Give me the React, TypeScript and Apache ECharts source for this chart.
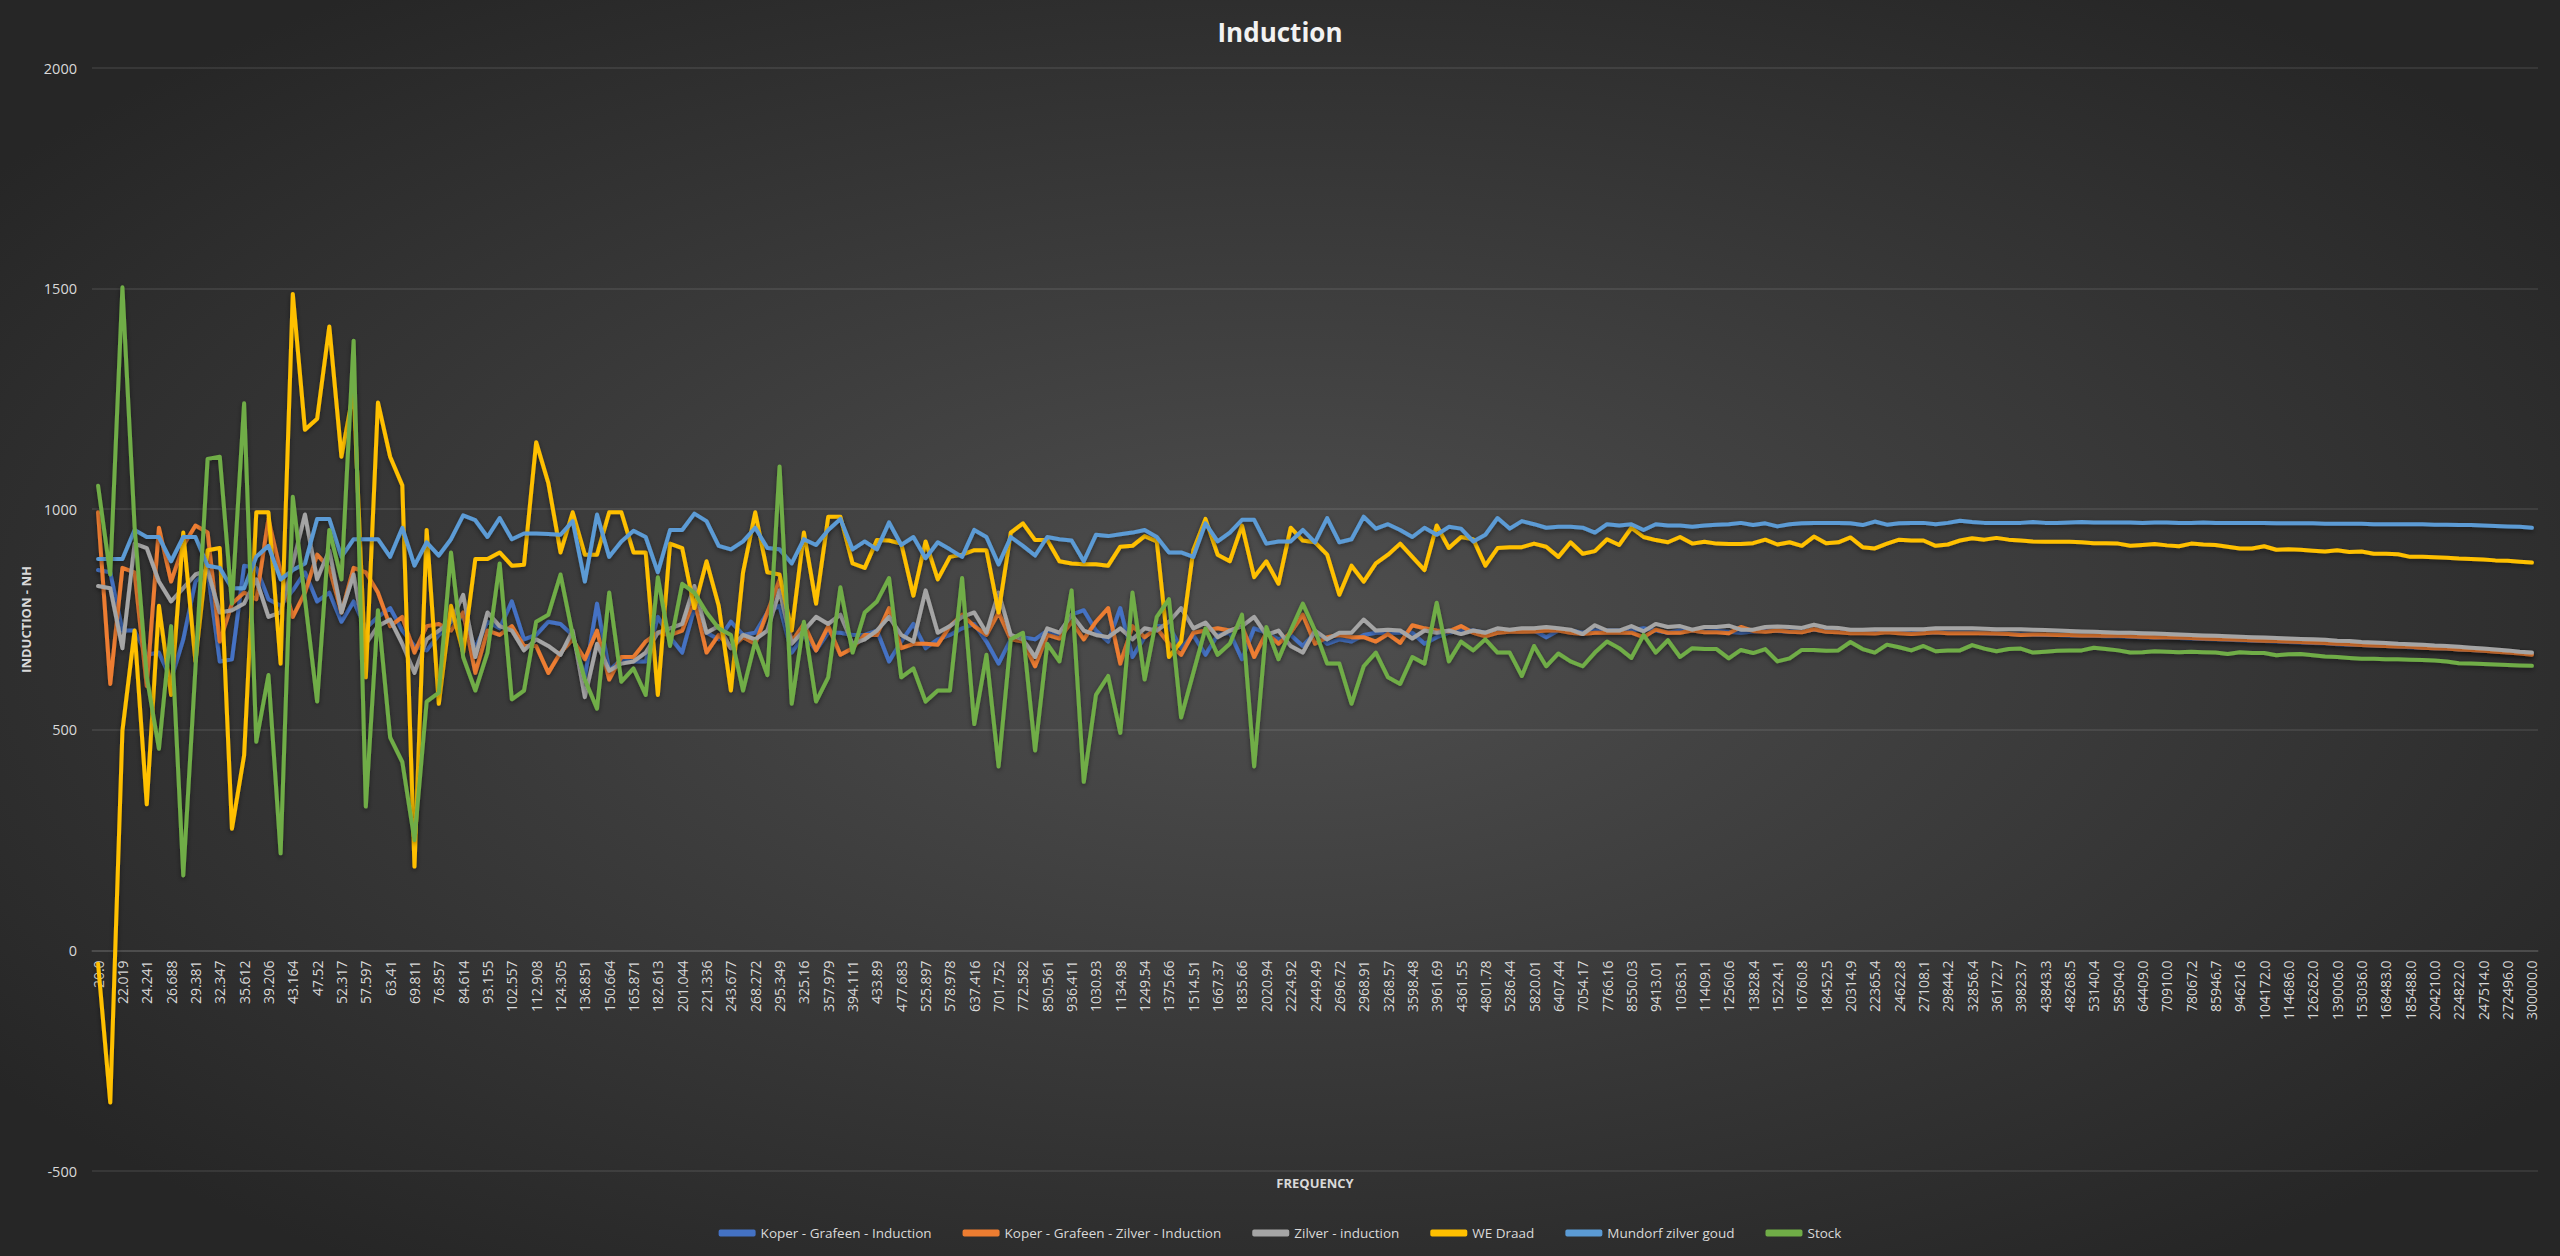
import React, { useEffect, useRef } from 'react';
import * as echarts from 'echarts';

// frequency points (every other one is labelled on the axis)
const frequencies = [
  '20.0', '20.985', '22.019', '23.104', '24.241', '25.435', '26.688', '28.003', '29.381', '30.828',
  '32.347', '33.940', '35.612', '37.366', '39.206', '41.137', '43.164', '45.290', '47.52', '49.861',
  '52.317', '54.894', '57.597', '60.434', '63.41', '66.533', '69.811', '73.250', '76.857', '80.643',
  '84.614', '88.782', '93.155', '97.743', '102.557', '107.608', '112.908', '118.469', '124.305', '130.428',
  '136.851', '143.592', '150.664', '158.085', '165.871', '174.041', '182.613', '191.607', '201.044', '210.946',
  '221.336', '232.238', '243.677', '255.679', '268.272', '281.486', '295.349', '309.896', '325.16', '341.175',
  '357.979', '375.611', '394.111', '413.523', '433.89', '455.261', '477.683', '501.211', '525.897', '551.8',
  '578.978', '607.495', '637.416', '668.811', '701.752', '736.316', '772.582', '810.635', '850.561', '892.455',
  '936.411', '982.533', '1030.93', '1081.71', '1134.98', '1190.88', '1249.54', '1311.09', '1375.66', '1443.42',
  '1514.51', '1589.11', '1667.37', '1749.5', '1835.66', '1926.07', '2020.94', '2120.48', '2224.92', '2334.51',
  '2449.49', '2570.14', '2696.72', '2829.54', '2968.91', '3115.14', '3268.57', '3429.56', '3598.48', '3775.72',
  '3961.69', '4156.82', '4361.55', '4576.37', '4801.78', '5038.29', '5286.44', '5546.82', '5820.01', '6106.67',
  '6407.44', '6723.03', '7054.17', '7401.62', '7766.16', '8148.68', '8550.03', '8971.15', '9413.01', '9876.64',
  '10363.1', '10873.5', '11409.1', '11971.1', '12560.6', '13179.3', '13828.4', '14509.5', '15224.1', '15974.0',
  '16760.8', '17586.3', '18452.5', '19361.4', '20314.9', '21315.5', '22365.4', '23467.0', '24622.8', '25835.6',
  '27108.1', '28443.3', '29844.2', '31314.2', '32856.4', '34474.7', '36172.7', '37954.4', '39823.7', '41785.2',
  '43843.3', '46002.8', '48268.5', '50645.9', '53140.4', '55757.8', '58504.0', '61385.6', '64409.0', '67581.4',
  '70910.0', '74402.6', '78067.2', '81912.3', '85946.7', '90179.9', '94621.6', '99282.1', '104172.0', '109303.0',
  '114686.0', '120335.0', '126262.0', '132481.0', '139006.0', '145853.0', '153036.0', '160574.0', '168483.0', '176781.0',
  '185488.0', '194624.0', '204210.0', '214268.0', '224822.0', '235895.0', '247514.0', '259705.0', '272496.0', '285918.0',
  '300000.0',
];

const koperGrafeen = [
  862, 857, 725, 725, 670, 675, 614, 705, 836, 862, 655, 660, 872, 867, 796, 781, 816, 857, 791, 811, 745, 791, 730, 756, 776, 725, 690,
  680, 715, 740, 756, 685, 745, 730, 791, 705, 715, 745, 740, 715, 619, 786, 634, 660, 655, 655, 756, 710, 675, 776, 720, 705, 745,
  715, 720, 766, 781, 675, 715, 680, 720, 720, 715, 715, 725, 655, 700, 740, 685, 705, 715, 730, 740, 700, 650, 705, 710, 705, 725, 715,
  761, 771, 725, 700, 776, 665, 710, 735, 735, 685, 715, 670, 715, 720, 660, 730, 720, 705, 715, 690, 720, 695, 705, 700, 715, 720,
  720, 720, 720, 695, 710, 720, 725, 725, 720, 720, 725, 727, 725, 710, 725, 725, 720, 725, 725, 725, 725, 730, 725, 720, 725, 725,
  722, 724, 722, 720, 723, 725, 724, 723, 722, 727, 724, 722, 722, 720, 720, 722, 720, 719, 720, 721, 720, 720, 720, 719, 718, 717, 716, 716, 715, 715, 714, 714, 713, 712,
  712, 711, 710, 709, 709, 708, 707, 706, 705, 704, 703, 702, 701, 700, 699, 698, 697, 696, 694, 693, 692, 691, 690, 689, 687, 686, 685, 684, 682, 681, 679, 678, 676, 675, 673,
];

const koperGrafeenZilver = [
  993, 604, 867, 857, 599, 958, 836, 917, 963, 947, 700, 786, 811, 796, 978, 857, 756, 811, 897, 867, 766, 867, 857, 811, 735, 756, 675,
  735, 740, 725, 766, 629, 725, 715, 735, 690, 690, 629, 675, 705, 660, 725, 614, 665, 665, 700, 720, 715, 725, 796, 675, 715, 685,
  710, 695, 766, 841, 700, 740, 680, 735, 670, 685, 715, 715, 776, 685, 695, 695, 693, 735, 761, 735, 715, 766, 705, 700, 644, 715, 707,
  745, 705, 745, 776, 650, 735, 710, 730, 695, 670, 720, 725, 730, 725, 735, 665, 720, 695, 720, 761, 695, 710, 715, 710, 710, 700,
  717, 697, 737, 730, 725, 723, 735, 720, 712, 720, 722, 722, 723, 725, 725, 720, 717, 720, 720, 720, 720, 710, 727, 720, 720, 725,
  721, 721, 719, 733, 724, 722, 725, 722, 721, 728, 722, 721, 719, 719, 718, 721, 719, 717, 719, 721, 719, 719, 719, 719, 718, 717, 715, 716, 716, 715, 715, 714, 714, 713,
  713, 712, 711, 710, 710, 709, 708, 707, 706, 705, 704, 703, 702, 701, 700, 699, 698, 697, 695, 694, 692, 691, 690, 689, 688, 686, 685, 684, 682, 681, 679, 677, 675, 673, 670,
];

const zilver = [
  826, 821, 685, 922, 912, 836, 791, 821, 852, 862, 766, 771, 786, 841, 756, 766, 877, 988, 841, 907, 766, 852, 695, 735, 750, 695, 629,
  705, 725, 745, 806, 665, 766, 735, 725, 680, 705, 690, 670, 725, 574, 695, 634, 650, 655, 675, 720, 730, 740, 826, 720, 735, 685,
  715, 705, 725, 816, 695, 725, 756, 740, 761, 695, 705, 725, 756, 715, 700, 816, 720, 735, 756, 766, 720, 811, 715, 705, 665, 730, 720,
  761, 725, 715, 710, 730, 705, 730, 725, 745, 776, 730, 743, 710, 725, 735, 756, 715, 725, 690, 675, 725, 705, 720, 720, 750, 725,
  727, 725, 707, 725, 720, 725, 717, 725, 720, 730, 727, 730, 730, 733, 730, 727, 717, 737, 725, 725, 735, 723, 740, 733, 735, 727,
  733, 733, 736, 727, 727, 733, 734, 733, 731, 738, 732, 731, 727, 727, 728, 728, 728, 728, 728, 730, 730, 730, 730, 729, 728, 728, 728, 727, 726, 725, 724, 723, 722, 721,
  720, 720, 719, 718, 717, 716, 715, 714, 713, 712, 711, 710, 709, 708, 707, 706, 705, 704, 702, 701, 699, 698, 697, 695, 694, 693, 691, 690, 688, 686, 684, 682, 680, 677, 675,
];

const weDraad = [
  -30, -345, 498, 725, 331, 781, 579, 947, 655, 907, 912, 276, 442, 993, 993, 650, 1488, 1180, 1205, 1414, 1119, 1270, 619, 1242, 1119, 1054, 190,
  953, 559, 781, 675, 887, 887, 902, 872, 874, 1152, 1059, 902, 993, 897, 897, 993, 993, 902, 902, 579, 922, 912, 776, 882, 781, 589,
  857, 993, 857, 852, 725, 947, 786, 983, 983, 877, 867, 930, 929, 922, 804, 927, 841, 892, 897, 907, 907, 766, 947, 968, 930, 930, 882,
  877, 875, 875, 872, 915, 917, 939, 927, 665, 700, 907, 978, 897, 882, 963, 846, 882, 831, 958, 929, 925, 897, 806, 872, 836, 877,
  897, 922, 892, 862, 963, 912, 937, 932, 872, 912, 914, 914, 922, 915, 892, 925, 899, 905, 932, 919, 958, 937, 930, 925, 937, 922,
  926, 922, 921, 921, 923, 931, 920, 925, 917, 938, 923, 925, 936, 914, 911, 922, 931, 929, 929, 917, 920, 929, 934, 931, 935, 931, 929, 927, 926, 926, 926, 925, 923, 923,
  922, 917, 919, 921, 918, 916, 922, 920, 919, 915, 911, 911, 916, 908, 909, 908, 906, 904, 907, 903, 904, 899, 899, 898, 892, 892, 891, 890, 888, 887, 886, 884, 883, 881, 879,
];

const mundorf = [
  887, 887, 887, 953, 937, 937, 882, 937, 937, 872, 867, 821, 821, 892, 917, 841, 862, 877, 978, 978, 892, 932, 932, 932, 892, 958, 872,
  925, 895, 932, 986, 975, 937, 980, 932, 945, 945, 944, 942, 973, 836, 988, 892, 927, 951, 937, 857, 953, 953, 990, 973, 917, 909,
  927, 958, 912, 909, 877, 932, 919, 953, 978, 909, 927, 909, 970, 919, 937, 889, 925, 909, 892, 953, 937, 875, 937, 917, 895, 937, 932,
  929, 882, 942, 939, 943, 947, 953, 937, 902, 902, 892, 968, 927, 947, 976, 976, 922, 927, 927, 953, 925, 980, 925, 932, 983, 956,
  966, 953, 937, 958, 942, 960, 956, 927, 942, 980, 956, 973, 966, 958, 960, 960, 958, 947, 966, 963, 966, 953, 966, 963, 963, 960,
  963, 965, 966, 969, 964, 968, 961, 966, 968, 969, 969, 969, 968, 964, 972, 965, 968, 969, 969, 966, 969, 974, 971, 969, 969, 969, 969, 971, 969, 969, 970, 971, 970, 970,
  970, 970, 969, 970, 970, 969, 969, 970, 969, 969, 969, 969, 969, 968, 968, 968, 968, 967, 967, 967, 967, 966, 966, 966, 966, 966, 965, 965, 964, 964, 963, 962, 961, 960, 958,
];

const stock = [
  1053, 852, 1503, 960, 620, 457, 735, 170, 640, 1114, 1119, 786, 1240, 473, 624, 220, 1028, 796, 564, 953, 841, 1382, 326, 771, 483, 427, 250,
  564, 584, 902, 665, 589, 675, 877, 569, 589, 745, 761, 852, 715, 614, 548, 811, 609, 639, 579, 846, 690, 831, 811, 766, 730, 715,
  589, 700, 624, 1097, 559, 745, 564, 619, 823, 675, 766, 791, 844, 619, 639, 564, 589, 589, 844, 513, 670, 417, 705, 720, 453, 695, 655,
  816, 382, 579, 622, 493, 811, 614, 756, 796, 528, 629, 730, 670, 695, 761, 417, 733, 660, 725, 786, 725, 650, 650, 559, 644, 675,
  619, 604, 665, 650, 788, 655, 700, 680, 705, 675, 675, 622, 690, 644, 673, 655, 644, 675, 700, 685, 663, 715, 675, 703, 665, 685,
  683, 683, 662, 681, 674, 683, 655, 662, 681, 681, 679, 680, 699, 683, 675, 693, 687, 680, 690, 678, 680, 680, 692, 684, 678, 683, 684, 675, 677, 679, 680, 680, 686, 683,
  680, 675, 676, 678, 677, 676, 677, 676, 675, 672, 676, 674, 674, 669, 671, 672, 669, 666, 665, 663, 661, 661, 660, 660, 659, 658, 657, 655, 651, 650, 649, 648, 647, 646, 645,
];

const seriesNames = [
  'Koper - Grafeen - Induction',
  'Koper - Grafeen - Zilver - Induction',
  'Zilver - induction',
  'WE Draad',
  'Mundorf zilver goud',
  'Stock',
];
const seriesData = [koperGrafeen, koperGrafeenZilver, zilver, weDraad, mundorf, stock];
const colors = ['#4472C4', '#ED7D31', '#A5A5A5', '#FFC000', '#5B9BD5', '#70AD47'];

const font = "'Open Sans', 'Noto Sans', sans-serif";
const gridColor = 'rgba(255,255,255,0.11)';
const textColor = '#d9d9d9';

// plot box: top 68, bottom 1171 (y range -500..2000)
const gridTop = 68;
const gridBottom = 85;
const plotHeight = 1256 - gridTop - gridBottom;
const yMin = -500;
const yMax = 2000;
// the category axis crosses the value axis at 0
const zeroOffset = (plotHeight * (0 - yMin)) / (yMax - yMin);

export default function App() {
  const chartRef = useRef<HTMLDivElement>(null);

  useEffect(() => {
    if (!chartRef.current) return;
    const chart = echarts.init(chartRef.current, null, { renderer: 'svg' });

    chart.setOption({
      animation: false,
      backgroundColor: '#282828',
      color: colors,
      textStyle: { fontFamily: font },
      graphic: [
        {
          type: 'rect',
          silent: true,
          z: -100,
          left: 0,
          top: 0,
          shape: { width: 2560, height: 1256 },
          style: {
            fill: new echarts.graphic.RadialGradient(0.5, 0.5, 0.62, [
              { offset: 0, color: '#4f4f4f' },
              { offset: 1, color: '#262626' },
            ]),
          },
        },
      ],
      title: {
        text: 'Induction',
        left: 'center',
        top: 14,
        textStyle: { color: '#f2f2f2', fontSize: 26, fontWeight: 'bold', fontFamily: font },
      },
      legend: {
        data: seriesNames,
        top: 1221,
        left: 'center',
        icon: 'roundRect',
        itemWidth: 37,
        itemHeight: 7,
        itemGap: 31,
        textStyle: { color: textColor, fontSize: 13.5, fontFamily: font },
      },
      grid: { left: 92, right: 22, top: gridTop, bottom: gridBottom, outerBoundsMode: 'none' },
      xAxis: {
        type: 'category',
        data: frequencies,
        boundaryGap: true,
        offset: -zeroOffset,
        name: 'FREQUENCY',
        nameLocation: 'middle',
        nameGap: 226,
        nameTextStyle: { color: textColor, fontSize: 13, fontWeight: 'bold', fontFamily: font },
        axisLine: { onZero: false, lineStyle: { color: gridColor, width: 1.5 } },
        axisTick: { show: false },
        axisLabel: {
          interval: 1,
          rotate: 90,
          margin: 10,
          color: textColor,
          fontSize: 14,
          fontFamily: font,
        },
        splitLine: { show: false },
      },
      yAxis: {
        type: 'value',
        min: yMin,
        max: yMax,
        interval: 500,
        name: 'INDUCTION - NH',
        nameLocation: 'middle',
        nameRotate: 90,
        nameGap: 48,
        nameTextStyle: { color: textColor, fontSize: 13, fontWeight: 'bold', fontFamily: font },
        axisLine: { show: false },
        axisTick: { show: false },
        axisLabel: {
          color: textColor,
          fontSize: 14.5,
          margin: 15,
          fontFamily: font,
          formatter: (v: number) => String(v),
        },
        splitLine: { lineStyle: { color: gridColor, width: 1.5 } },
      },
      series: seriesNames.map((name, i) => ({
        name,
        type: 'line',
        data: seriesData[i],
        symbol: 'none',
        lineStyle: {
          width: 4,
          color: colors[i],
          cap: 'round',
          join: 'round',
          shadowColor: 'rgba(0,0,0,0.45)',
          shadowBlur: 5,
          shadowOffsetY: 2,
        },
        itemStyle: { color: colors[i] },
      })),
    });

    return () => {
      chart.dispose();
    };
  }, []);

  return (
    <div
      ref={chartRef}
      style={{ position: 'fixed', left: 0, top: 0, width: 2560, height: 1256 }}
    ></div>
  );
}
